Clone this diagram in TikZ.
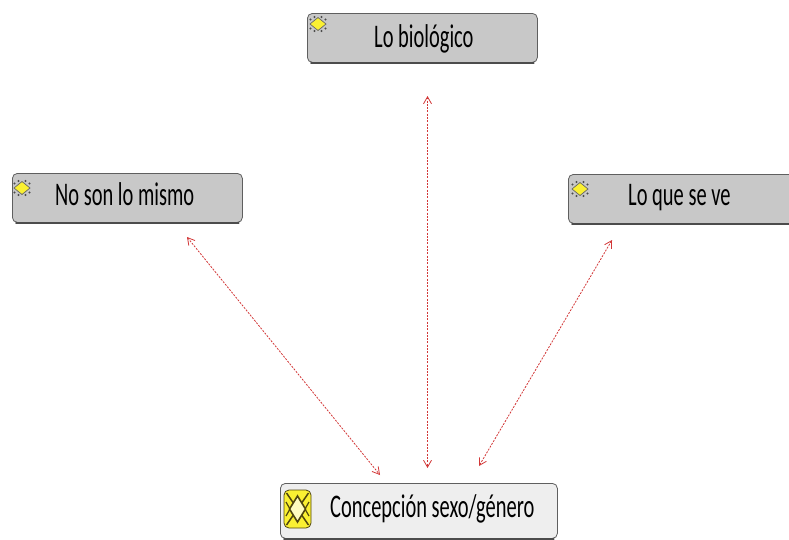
\documentclass[tikz,border=0pt]{standalone}
\usepackage{fontspec}
\setmainfont{Carlito}
\newfontfamily\boxfont{Carlito}[FakeStretch=0.62]
\usetikzlibrary{arrows.meta}
\definecolor{boxgray}{RGB}{200,200,200}
\definecolor{boxlight}{RGB}{238,238,238}
\definecolor{boxedge}{RGB}{95,95,95}
\definecolor{linkred}{RGB}{210,55,55}
\definecolor{iconyellow}{RGB}{250,240,50}
\definecolor{icondark}{RGB}{80,70,15}
\begin{document}
\begin{tikzpicture}[x=1pt,y=-1pt,
  box/.style={draw=boxedge, line width=0.8pt, fill=boxgray, rounded corners=5pt,
    anchor=north west, inner sep=0pt, minimum height=49pt},
  lbl/.style={font=\boxfont\fontsize{33}{36}\selectfont, anchor=base west,
    inner sep=0pt, text=black},
  link/.style={draw=linkred, line width=0.8pt, dash pattern=on 2pt off 1.3pt,
    {Straight Barb[length=7pt,width=8pt]}-{Straight Barb[length=7pt,width=8pt]}},
  shadowline/.style={draw=boxedge!80!black, line width=1.6pt, line cap=round},
  smallicon/.style={fill=iconyellow, draw=gray!80!black, line width=0.7pt}
]
\useasboundingbox (0,0) rectangle (789,539);

% boxes
\node[box, minimum width=230pt] (bio) at (307,13) {};
\node[box, minimum width=230pt] (nsm) at (12,173) {};
\node[box, minimum width=240pt] (lqv) at (568,174) {};
\node[box, fill=boxlight, minimum width=277pt, minimum height=55pt] (con) at (280,483) {};

\foreach \b in {bio,nsm,lqv,con}{
  \draw[shadowline] ([xshift=4pt]\b.south west) -- ([xshift=-4pt]\b.south east);
}

% small icons
\foreach \cx/\cy in {318/24, 22/188, 580/189}{
  \foreach \dx/\dy in {-7.5/-4.5,7.5/-4.5,-7.5/4.5,7.5/4.5,-3.5/-7,3.5/-7,-3.5/7,3.5/7}{
    \fill[gray!60!black] (\cx+\dx,\cy+\dy) circle (1.2pt);
  }
  \draw[smallicon] (\cx-8,\cy) -- (\cx,\cy-6.5) -- (\cx+8,\cy) -- (\cx,\cy+6.5) -- cycle;
}

% big icon
\draw[fill=iconyellow, draw=icondark, line width=0.8pt, rounded corners=5pt]
  (284,490) rectangle (311,528);
\draw[icondark, line width=1.5pt] (286.5,493) -- (297.5,509) -- (286.5,525);
\draw[icondark, line width=1.5pt] (308.5,493) -- (297.5,509) -- (308.5,525);
\draw[icondark, line width=1.2pt] (286,502) -- (290,509) -- (286,516);
\draw[icondark, line width=1.2pt] (309,502) -- (305,509) -- (309,516);
\draw[fill=yellow!25!white, draw=icondark, line width=1.6pt]
  (289.5,509) -- (297.5,496) -- (305.5,509) -- (297.5,522) -- cycle;

% labels
\node[lbl] (biot) at (374,47) {Lo biológico};
\node[lbl] (nsmt) at (55,205) {No son lo mismo};
\node[lbl] (lqvt) at (628,205) {Lo que se ve};
\node[lbl] (cont) at (330,517) {Concepción sexo/género};

% connector ends
\coordinate (bioE) at (427.5,96);
\coordinate (conB) at (427.5,468);
\coordinate (nsmE) at (187,237);
\coordinate (conA) at (380,475);
\coordinate (lqvE) at (612,240);
\coordinate (conC) at (479,466);

\draw[link] (bioE) -- (conB);
\draw[link] (nsmE) -- (conA);
\draw[link] (lqvE) -- (conC);
\end{tikzpicture}
\end{document}
